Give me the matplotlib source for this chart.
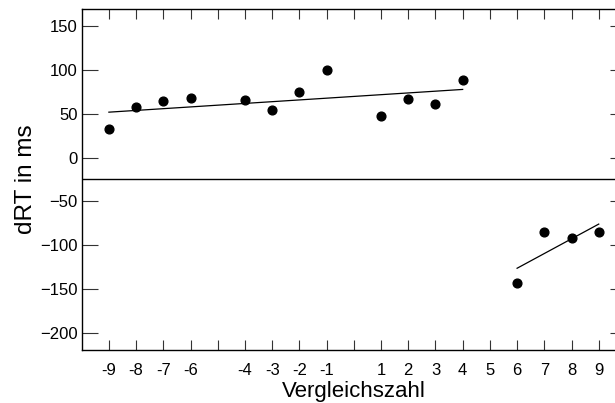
import matplotlib
matplotlib.use("Agg")
import matplotlib.pyplot as plt

plt.rcParams['font.family'] = ['Liberation Sans', 'DejaVu Sans']

# Data
pos_x = [-9, -8, -7, -6, -4, -3, -2, -1, 1, 2, 3, 4]
pos_y = [33, 57.5, 65, 68, 65.5, 55, 74.5, 100, 48, 66.5, 61, 88.5]
neg_x = [6, 7, 8, 9]
neg_y = [-143.5, -84.5, -91.5, -84.5]

# regression lines (end points)
fit_pos_x = [-9, 4]
fit_pos_y = [52, 78]
fit_neg_x = [6, 9]
fit_neg_y = [-126.5, -76]

x_ticks = list(range(-9, 10))
x_labels = ['' if t in (-5, 0) else str(t) for t in x_ticks]
y_ticks = [-200, -150, -100, -50, 0, 50, 100, 150]
split_y = -25

fig = plt.figure(figsize=(6.15, 4.03), dpi=100)
# right border of the original panel is cut off, so the axes run past the edge
ax = fig.add_axes([0.1328, 0.1315, 0.885, 0.8462])

ax.plot(fit_pos_x, fit_pos_y, color='black', lw=0.9)
ax.plot(fit_neg_x, fit_neg_y, color='black', lw=0.9)
ax.plot(pos_x, pos_y, 'o', color='black', ms=6.3)
ax.plot(neg_x, neg_y, 'o', color='black', ms=6.3)
ax.axhline(split_y, color='black', lw=1.0)

ax.set_xlim(-10, 10)
ax.set_ylim(-220, 170)
ax.set_xticks(x_ticks)
ax.set_xticklabels(x_labels)
ax.set_yticks(y_ticks)
ax.tick_params(axis='x', direction='in', length=7.2, width=0.8,
               top=True, labelsize=12, pad=9, color='#333333')
ax.tick_params(axis='y', direction='in', length=11.5, width=0.8,
               right=True, labelsize=12, pad=3, color='#333333')
for s in ax.spines.values():
    s.set_linewidth(1.0)

ax.set_xlabel('Vergleichszahl', fontsize=16, labelpad=2.5)
ax.set_ylabel('dRT in ms', fontsize=17.5, labelpad=2)

fig.savefig('out.png', dpi=100)
